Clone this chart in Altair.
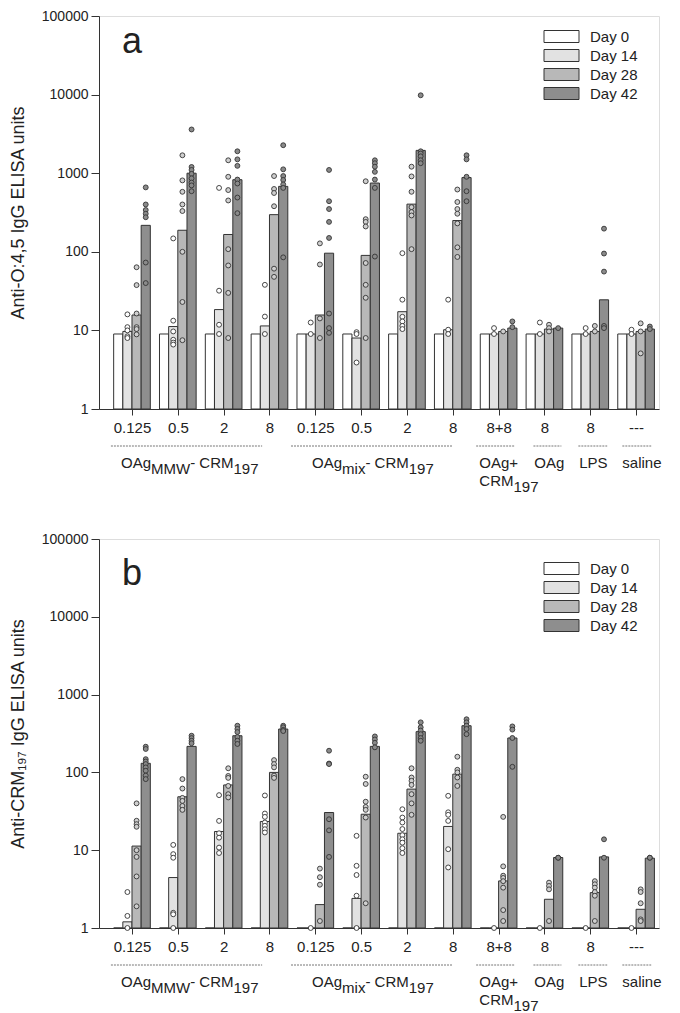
import json
import altair as alt
import pandas as pd

# ---------------- data ----------------
DAYS = ["Day 0", "Day 14", "Day 28", "Day 42"]
GROUP_TICKS = ["0.125", "0.5", "2", "8", "0.125", "0.5", "2", "8", "8+8", "8", "8", "---"]

# Panel a: anti-O:4,5 IgG (bar heights per group)
A_D0 = [9, 9, 9, 9, 9, 9, 9, 9, 9, 9, 9, 9]
A_D14 = [9.7, 11.2, 18.4, 11.4, 9.0, 8.0, 17.3, 10.2, 9.0, 9.0, 9.0, 9.0]
A_D28 = [15.7, 188, 166, 297, 15.7, 90, 404, 250, 9.7, 10.4, 9.7, 9.7]
A_D42 = [217, 1000, 826, 680, 96, 750, 1950, 880, 10.7, 10.7, 24.5, 10.4]

# Panel a: individual animals
A_P14 = [[16, 11, 10, 8.4, 8], [148, 13.3, 9.7, 7.6, 7.0, 6.6], [650, 32, 11.8, 9], [38, 15, 9],
         [12.6, 9], [9.5, 9, 3.9], [96, 24.6, 14.9, 13, 11.4, 10.4], [24.6, 10.2, 9],
         [10.7, 9], [12.6, 9], [10.7, 9], [10.2, 9]]
A_P28 = [[63.6, 37.7, 16.4, 11, 10.4, 8.9], [1690, 810, 580, 400, 330, 100, 23, 7.5],
         [1460, 900, 610, 450, 108, 67, 30, 8], [920, 630, 560, 380, 61, 48],
         [128, 69, 14.2, 8], [790, 260, 240, 210, 72, 38, 26, 8],
         [1210, 910, 580, 370, 320, 290, 108], [620, 430, 350, 305, 230, 114, 86],
         [9.7], [11.8, 10.7, 9.7], [11.4, 9.7], [12.3, 9.7, 5.1]]
A_P42 = [[660, 400, 340, 305, 275, 73, 40], [3600, 1200, 1100, 980, 860, 760, 700, 590],
         [1900, 1500, 1240, 830, 740, 490, 310], [2270, 1120, 920, 820, 720, 650, 85],
         [1100, 440, 350, 240, 150, 16.4, 10.7, 9.3], [1460, 1340, 1210, 1040, 830, 650, 87],
         [9800, 1900, 1780, 1640, 1460, 1340], [1690, 1500, 900, 590, 440],
         [13, 11], [10.7], [197, 95, 56, 11.4, 10.7], [11.2, 10.4]]

# Panel b: anti-CRM197 IgG
B_D0 = [1, 1, 1, 1, 1, 1, 1, 1, 1, 1, 1, 1]
B_D14 = [1.2, 4.45, 17.4, 23.4, 1, 2.4, 16.5, 20.2, 1, 1, 1, 1]
B_D28 = [11.3, 48.6, 69, 100, 2.0, 29, 61, 95, 4.03, 2.34, 2.85, 1.74]
B_D42 = [131, 216, 296, 361, 30.5, 216, 334, 398, 277, 8.05, 8.2, 7.9]

B_P14 = [[2.9, 1.43, 1.0], [11.7, 8.9, 8.0, 1.57, 1.5, 1.0], [51, 23.8, 16.5, 14.5, 10.8, 9.2],
         [50.5, 29.6, 26.8, 22.7, 20.6, 18.6, 16.9], [1.0], [15.3, 6.3, 4.8, 2.6, 1.0],
         [33.6, 26.3, 22.7, 18.7, 15.6, 13.8, 12.5, 10.6, 9.2], [50, 30.7, 28.5, 23.8, 10.3, 6.0],
         [1.0], [1.0], [1.0], [1.0]]
B_P28 = [[40, 23.9, 21.6, 20, 10, 8.2, 4.6, 1.9], [82, 62, 47, 43, 37, 33],
         [113, 90, 85, 67, 52.5, 47.7], [144, 128, 116, 91, 85], [5.8, 4.5, 3.6, 1.23],
         [88, 71, 42, 36, 33, 26.3, 2.08], [113, 86, 78, 69, 52.5, 40, 28.5],
         [159, 108, 100, 86, 67], [26.8, 6.2, 4.7, 4.4, 4.0, 3.3, 1.7, 1.23],
         [3.83, 3.47, 3.14, 1.23], [4.0, 3.65, 3.3, 2.9, 2.6, 1.23], [3.14, 2.9, 2.08, 1.29, 1.23]]
B_P42 = [[214, 200, 148, 138, 128, 116, 105, 91, 82], [296, 276, 255, 237],
         [398, 362, 330, 285, 255, 232], [398, 380, 352, 340], [190, 130, 128, 25, 18, 8.2],
         [290, 265, 240, 210], [440, 380, 345, 310, 276, 255], [482, 440, 398, 362, 310],
         [390, 355, 277, 118], [8.0, 8.0], [13.8, 8.0], [8.0, 8.0]]

# group captions (segments: text, subscript?)
CAPTIONS = [
    [[("OAg", False), ("MMW", True), ("- CRM", False), ("197", True)]],
    [[("OAg", False), ("mix", True), ("- CRM", False), ("197", True)]],
    [[("OAg+", False)], [("CRM", False), ("197", True)]],
    [[("OAg", False)]],
    [[("LPS", False)]],
    [[("saline", False)]],
]

# ---------------- layout / style ----------------
W = 560
X_DOMAIN = [0.28, 12.5]
PX_PER_UNIT = W / (X_DOMAIN[1] - X_DOMAIN[0])
CAPTION_START = [0.76, 4.93, 8.58, 9.78, 10.76, 11.70]
DASH_SPANS = [(0.54, 3.84), (4.47, 7.99), (8.51, 9.36), (9.76, 10.37), (10.74, 11.37), (11.70, 12.33)]
BAR_COLORS = ["#ffffff", "#e2e2e2", "#b8b8b8", "#8e8e8e"]
PT_COLORS = ["#ffffff", "#ffffff", "#cfcfcf", "#8a8a8a"]
FONT = "Liberation Sans"
FS = 15
CHAR_W = {'O': .778, 'A': .667, 'g': .556, 'M': .833, 'W': .944, '-': .333, ' ': .278, 'C': .722,
          'R': .722, '1': .556, '9': .556, '7': .556, 'm': .833, 'i': .222, 'x': .5, '+': .584,
          'L': .556, 'P': .667, 'S': .667, 's': .5, 'a': .556, 'l': .222, 'n': .556, 'e': .556}


def text_w(t):
    return sum(CHAR_W.get(c, 0.556) for c in t) * FS


def caption_frames():
    rows = {"n1": [], "s1": [], "n2": [], "s2": []}
    for start, lines in zip(CAPTION_START, CAPTIONS):
        for li, segs in enumerate(lines):
            pos = start
            for txt, sub in segs:
                key = ("s" if sub else "n") + str(li + 1)
                rows[key].append({"x": pos, "t": txt})
                pos += text_w(txt) / PX_PER_UNIT
    return {k: pd.DataFrame(v if v else [{"x": 1.0, "t": ""}]) for k, v in rows.items()}


def panel(bars, pts, ytitle, letter, H, letter_y, legend_y):
    bar_rows = []
    for k, (day, vals) in enumerate(zip(DAYS, bars)):
        for g, v in enumerate(vals, start=1):
            bar_rows.append({"group": g, "k": k, "day": day, "value": v, "base": 1})
    bdf = pd.DataFrame(bar_rows)
    pt_rows = []
    for k, plist in zip([1, 2, 3], pts):
        for g, vals in enumerate(plist, start=1):
            for v in vals:
                pt_rows.append({"group": g, "k": k, "day": DAYS[k], "value": v})
    pdf = pd.DataFrame(pt_rows)

    xscale = alt.Scale(domain=X_DOMAIN, nice=False, zero=False)
    yscale = alt.Scale(type="log", domain=[1, 100000], nice=False)
    label_expr = "%s[datum.value - 1]" % json.dumps(GROUP_TICKS)
    xaxis = alt.Axis(values=list(range(1, 13)), labelExpr=label_expr, tickSize=6,
                     labelPadding=5, labelFontSize=FS, labelFont=FONT, labelColor="#222",
                     labelFlush=False, labelOverlap=False, grid=False,
                     domainColor="#333", tickColor="#333")
    yaxis = alt.Axis(values=[1, 10, 100, 1000, 10000, 100000], format="d", tickSize=8,
                     labelPadding=3, labelFontSize=14, labelFont=FONT, labelColor="#222",
                     titleFont=FONT, titleFontSize=18, titleFontWeight="normal",
                     titleColor="#222", titlePadding=14, grid=False,
                     domainColor="#333", tickColor="#333", labelFlush=False)

    bars_layer = alt.Chart(bdf).transform_calculate(
        x0="datum.group - 0.4 + 0.2 * datum.k",
        x1="datum.group - 0.2 + 0.2 * datum.k",
    ).mark_bar(stroke="#333333", strokeWidth=1, opacity=1).encode(
        x=alt.X("x0:Q", scale=xscale, title=None, axis=xaxis),
        x2="x1:Q",
        y=alt.Y("value:Q", scale=yscale, title=ytitle, axis=yaxis),
        y2="base:Q",
        color=alt.Color("day:N", scale=alt.Scale(domain=DAYS, range=BAR_COLORS),
                        legend=alt.Legend(orient="none", legendX=452, legendY=legend_y, title=None,
                                          symbolType="M-1.75,-0.6H1.75V0.6H-1.75Z", symbolSize=400,
                                          symbolStrokeColor="#333", symbolStrokeWidth=1,
                                          symbolOpacity=1, labelFontSize=FS, labelFont=FONT,
                                          labelColor="#222", labelOffset=18, rowPadding=0,
                                          padding=0)),
    )

    pts_layer = alt.Chart(pdf).transform_calculate(
        xc="datum.group - 0.3 + 0.2 * datum.k"
    ).mark_circle(size=24, stroke="#333333", strokeWidth=0.9, opacity=1).encode(
        x=alt.X("xc:Q", title=None, axis=xaxis),
        y=alt.Y("value:Q", title=ytitle, axis=yaxis),
        fill=alt.Fill("day:N", scale=alt.Scale(domain=DAYS, range=PT_COLORS), legend=None),
    )

    ddf = pd.DataFrame([{"xs": a, "xe": b} for a, b in DASH_SPANS])
    dash_layer = alt.Chart(ddf).mark_rule(color="#777777", strokeWidth=1, strokeDash=[2, 1]).encode(
        x=alt.X("xs:Q", title=None, axis=xaxis), x2="xe:Q", y=alt.value(H + 37)
    )

    cf = caption_frames()
    offs = {"n1": H + 59, "s1": H + 65, "n2": H + 77, "s2": H + 83}
    text_layers = []
    for key, df in cf.items():
        text_layers.append(
            alt.Chart(df).mark_text(align="left", baseline="alphabetic", font=FONT, fontSize=FS,
                                    color="#222222").encode(
                x=alt.X("x:Q", title=None, axis=xaxis), y=alt.value(offs[key]), text="t:N")
        )

    letter_layer = alt.Chart(pd.DataFrame({"t": [letter]})).mark_text(
        align="left", baseline="alphabetic", font=FONT, fontSize=36, color="#222222"
    ).encode(x=alt.value(23), y=alt.value(letter_y), text="t:N")

    return alt.layer(bars_layer, pts_layer, dash_layer, *text_layers, letter_layer).properties(
        width=W, height=H)


pa = panel([A_D0, A_D14, A_D28, A_D42], [A_P14, A_P28, A_P42],
           "Anti-O:4,5 IgG ELISA units", "a", 393, 37, 10)
pb = panel([B_D0, B_D14, B_D28, B_D42], [B_P14, B_P28, B_P42],
           "Anti-CRM\u2081\u2089\u2087 IgG ELISA units", "b", 389, 46, 19)

chart = alt.vconcat(pa, pb, spacing=35).resolve_scale(
    color="independent", fill="independent"
).resolve_legend(color="independent").properties(
    padding={"left": 0, "top": 0, "right": 5, "bottom": 0}
).configure_view(stroke="#888888", strokeWidth=1).configure(background="white")

chart.save("out.html", embed_options={"renderer": "svg", "actions": False})
